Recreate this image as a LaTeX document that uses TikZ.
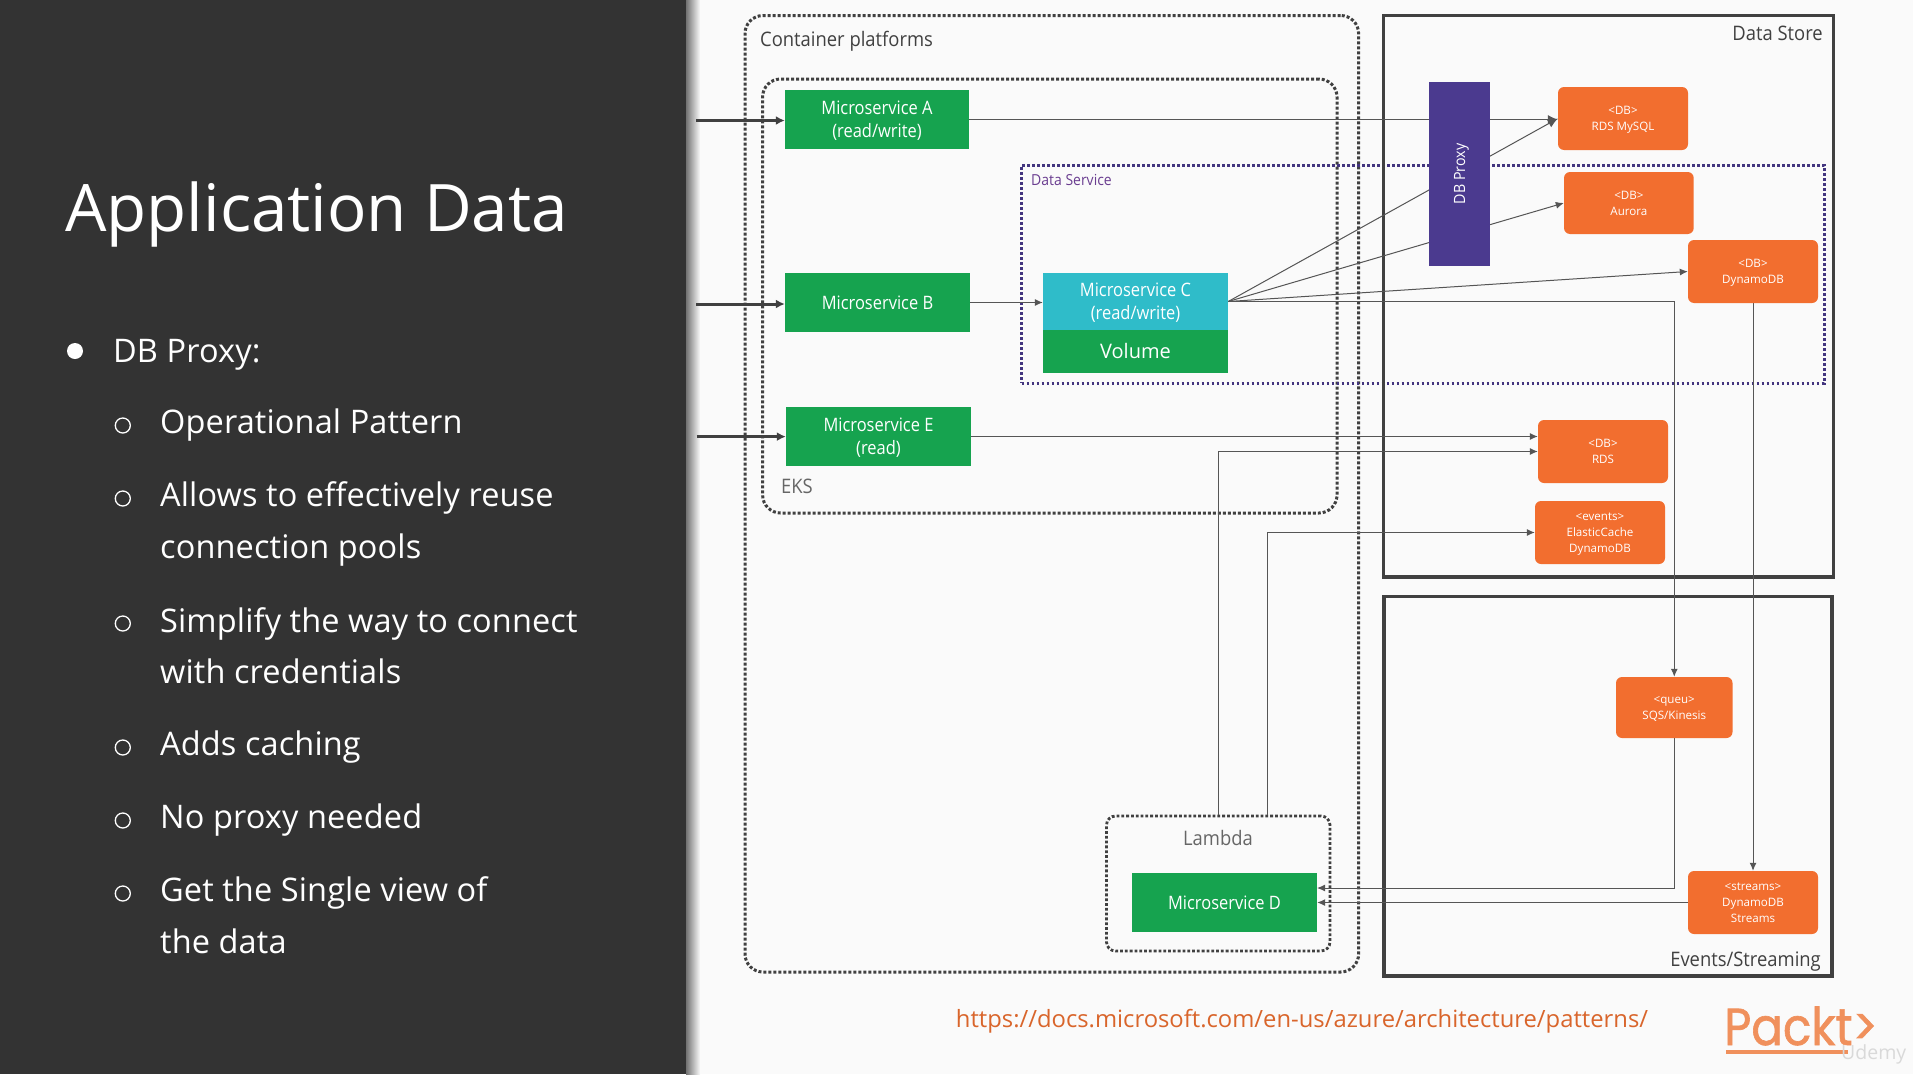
\documentclass[tikz,border=0pt]{standalone}
\usepackage{fontspec}
\usepackage{graphicx}
\setmainfont{Open Sans}
\newfontfamily\nar[FakeStretch=0.89]{Open Sans}
\newfontfamily\lblf[FakeStretch=0.92]{Open Sans}
\newfontfamily\logof[FakeStretch=0.9,FakeBold=1.2]{Poppins}
\usetikzlibrary{arrows.meta,calc}
\definecolor{bg}{HTML}{FAFAFA}
\definecolor{panel}{HTML}{333333}
\definecolor{grn}{HTML}{16A34F}
\definecolor{cyn}{HTML}{2FBCC9}
\definecolor{org}{HTML}{F26E2F}
\definecolor{prp}{HTML}{4B3A8F}
\definecolor{dsv}{HTML}{43357F}
\definecolor{dst}{HTML}{6A3D90}
\definecolor{drk}{HTML}{404040}
\definecolor{lin}{HTML}{555555}
\definecolor{urlc}{HTML}{D9652B}
\definecolor{logo}{HTML}{F0905C}
\pgfdeclarelayer{conn}
\pgfsetlayers{conn,main}
\newcommand{\bx}[7][]{%
  \pgfmathsetmacro\bxcx{(#3+#5)/2}\pgfmathsetmacro\bxcy{(#4+#6)/2}%
  \pgfmathsetmacro\bxw{#5-#3}\pgfmathsetmacro\bxh{#6-#4}%
  \node[#1,minimum width=\bxw pt,minimum height=\bxh pt,inner sep=0pt] (#2) at (\bxcx,\bxcy) {#7};}
\tikzset{
  x=1pt,y=-1pt,
  dotbox/.style={draw=drk,line width=3pt,dash pattern=on 3pt off 2pt,rounded corners=18pt},
  dotsmall/.style={draw=drk,line width=2.8pt,dash pattern=on 2.8pt off 2pt,rounded corners=9pt},
  dsbox/.style={draw=dsv,line width=3pt,dash pattern=on 2.7pt off 2.3pt},
  solidbox/.style={draw=drk,line width=3.2pt},
  greenbox/.style={fill=grn,text=white,align=center,text depth=0pt,font=\nar\fontsize{18.5}{23}\selectfont},
  cyanbox/.style={fill=cyn,text=white,align=center,text depth=0pt,font=\nar\fontsize{18.5}{23}\selectfont},
  orangebox/.style={fill=org,text=white,align=center,text depth=-1pt,rounded corners=6pt,font=\fontsize{11.6}{16}\selectfont},
  lbl/.style={inner sep=0pt,text=drk,font=\lblf\fontsize{20}{22}\selectfont},
  conn/.style={draw=lin,line width=1pt,-{Latex[length=8pt,width=7pt]}},
  connbig/.style={draw=lin,line width=1pt,-{Latex[length=10pt,width=9pt]}},
  inarrow/.style={draw=drk,line width=3pt,-{Latex[length=9pt,width=9pt]}},
  titletxt/.style={anchor=base west,inner sep=0pt,text=white,font=\fontsize{65.5}{70}\selectfont},
  bodytxt/.style={anchor=base west,inner sep=0pt,text=white,font=\addfontfeature{LetterSpace=0.4}\fontsize{32.5}{40}\selectfont},
  subbullet/.style={circle,draw=white,line width=1.3pt,minimum size=15pt,inner sep=0pt},
}
\begin{document}
\begin{tikzpicture}
\useasboundingbox (0,0) rectangle (1913,1074);
\begin{pgfonlayer}{conn}
\fill[bg] (0,0) rectangle (1913,1074);
\shade[left color=black!55,right color=bg] (686,0) rectangle (700,1074);
\fill[panel] (0,0) rectangle (686,1074);
\end{pgfonlayer}
% left text
\node[titletxt] (title) at (65,231.5) {Application Data};
\node[circle,fill=white,minimum size=16pt,inner sep=0pt] (b0) at (75,351) {};
\node[bodytxt] (t0) at (113,362) {DB Proxy:};
\node[subbullet] (b1) at (122.8,425.5) {};
\node[bodytxt] (t1) at (160,433.5) {Operational Pattern};
\node[subbullet] (b2) at (122.8,498.5) {};
\node[bodytxt] (t2) at (160,506.4) {Allows to effectively reuse};
\node[bodytxt] (t2b) at (160,558) {connection pools};
\node[subbullet] (b3) at (122.8,623.5) {};
\node[bodytxt] (t3) at (160,632) {Simplify the way to connect};
\node[bodytxt] (t3b) at (160,683) {with credentials};
\node[subbullet] (b4) at (122.8,747.5) {};
\node[bodytxt] (t4) at (160,755.5) {Adds caching};
\node[subbullet] (b5) at (122.8,820.5) {};
\node[bodytxt] (t5) at (160,828) {No proxy needed};
\node[subbullet] (b6) at (122.8,893.5) {};
\node[bodytxt] (t6) at (160,901) {Get the Single view of};
\node[bodytxt] (t6b) at (160,953) {the data};
% containers
\begin{pgfonlayer}{conn}
\bx[dotbox]{cont}{745}{15.5}{1358.6}{972}{}
\bx[dotbox]{eks}{762.6}{79}{1337}{513}{}
\bx[dsbox]{ds}{1021.5}{165}{1824}{383}{}
\bx[dotsmall]{lambda}{1106.5}{816}{1330}{951}{}
\bx[solidbox]{store}{1383.7}{15.3}{1833.6}{577}{}
\bx[solidbox]{evt}{1384}{596.5}{1832}{976}{}
\end{pgfonlayer}
% boxes
\bx[greenbox]{msA}{785}{90}{969}{149}{Microservice A\\(read/write)}
\bx[greenbox]{msB}{785}{273}{970}{332}{Microservice B}
\bx[greenbox]{msE}{786}{407}{971}{466}{Microservice E\\(read)}
\bx[greenbox,font=\fontsize{20}{23}\selectfont]{vol}{1043}{329}{1228}{373}{Volume}
\bx[cyanbox]{msC}{1043}{273}{1228}{330}{Microservice C\\(read/write)}
\bx[greenbox]{msD}{1132}{873}{1317}{932}{Microservice D}
\bx[fill=prp,text=white,font=\lblf\fontsize{15.5}{16}\selectfont]{proxy}{1429}{82}{1490}{265.6}{\hspace*{4pt}\rotatebox{90}{DB Proxy}}
\bx[orangebox]{mysql}{1558}{87}{1688}{150}{<DB>\\RDS MySQL}
\bx[orangebox]{aurora}{1564}{172}{1693.7}{234}{<DB>\\Aurora}
\bx[orangebox]{dyn}{1688}{240}{1818}{303}{<DB>\\DynamoDB}
\bx[orangebox]{rds}{1538}{420}{1668}{483}{<DB>\\RDS}
\bx[orangebox]{ecache}{1535}{501}{1665}{564}{<events>\\ElasticCache\\DynamoDB}
\bx[orangebox]{sqs}{1616}{677}{1732.5}{738}{<queu>\\SQS/Kinesis}
\bx[orangebox]{streams}{1688}{871}{1818}{934}{<streams>\\DynamoDB\\Streams}
% labels
\node[lbl,anchor=west] (lcont) at (760,41) {Container platforms};
\node[lbl,anchor=west,text=dst,font=\lblf\fontsize{15.2}{16}\selectfont] (lds) at (1031,180) {Data Service};
\node[lbl,anchor=west,text=black!60] (leks) at (781,486.5) {EKS};
\node[lbl,text=black!60] (llam) at (1218,838) {Lambda};
\node[lbl,anchor=east] (lstore) at (1823,33.5) {Data Store};
\node[lbl,anchor=east] (levt) at (1821,961.5) {Events/Streaming};
\node[inner sep=0pt,text=urlc,font=\fontsize{23.8}{28}\selectfont] (url) at (1302,1021.5) {https://docs.microsoft.com/en-us/azure/architecture/patterns/};
\node[inner sep=0pt,anchor=base west,text=logo,font=\logof\fontsize{52}{60}\selectfont] (packt) at (1724,1045) {Packt>};
\fill[logo] (1726,1050) rectangle (1848,1053.5);
\node[inner sep=0pt,anchor=west,text=white!85!black,font=\fontsize{19.5}{22}\selectfont] (udemy) at (1841,1054) {Udemy};
% connectors
\coordinate (i1) at (696,120.5);
\coordinate (i2) at (696,304);
\coordinate (i3) at (696.5,436.6);
\coordinate (l1) at (1218.7,451.5);
\coordinate (l2) at (1267.6,532.5);
\coordinate (d1) at (1317,888);
\begin{pgfonlayer}{conn}
\draw[inarrow] (i1) -- (i1 -| msA.west);
\draw[inarrow] (i2) -- (i2 -| msB.west);
\draw[inarrow] (i3) -- (i3 -| msE.west);
\draw[connbig] (msA.east) -- (msA.east -| mysql.west);
\draw[conn] (msB.east) -- (msB.east -| msC.west);
\draw[connbig] (msC.east) -- (mysql.west);
\draw[conn] (msC.east) -- (aurora.west);
\draw[conn] (msC.east) -- (dyn.west);
\draw[conn] (msC.east) -- (msC.east -| sqs.north) -- (sqs.north);
\draw[conn] (msE.east) -- (msE.east -| rds.west);
\draw[conn] (l1 |- lambda.north) -- (l1) -- (rds.west);
\draw[conn] (l2 |- lambda.north) -- (l2) -- (ecache.west);
\draw[conn] (dyn.south) -- (streams.north);
\draw[conn] (sqs.south) -- (sqs.south |- d1) -- (d1);
\draw[conn] (streams.west) -- (streams.west -| msD.east);
\end{pgfonlayer}
\end{tikzpicture}
\end{document}
